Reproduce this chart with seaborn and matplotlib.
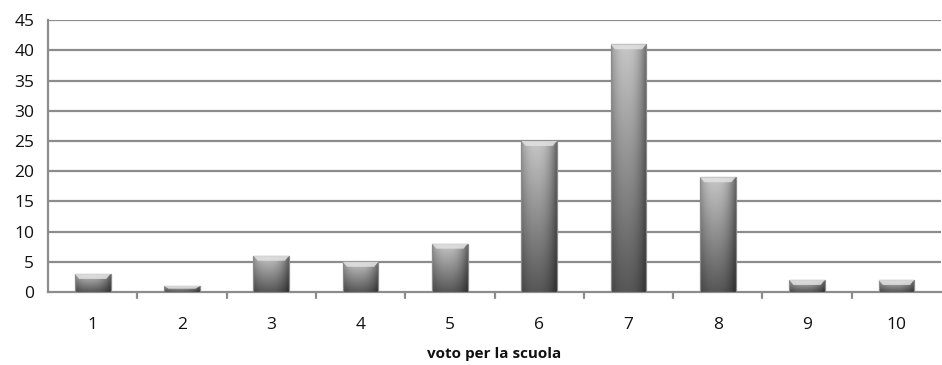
import numpy as np
import pandas as pd
import matplotlib
matplotlib.use("Agg")
import matplotlib.pyplot as plt
from matplotlib.patches import Polygon
from matplotlib.transforms import blended_transform_factory
import seaborn as sns

# Votes given to the school and how many students gave each one
votes = ["1", "2", "3", "4", "5", "6", "7", "8", "9", "10"]
counts = [3, 1, 6, 5, 8, 25, 41, 19, 2, 2]
y_ticks = [0, 5, 10, 15, 20, 25, 30, 35, 40, 45]
x_title = "voto per la scuola"

sns.set_theme(style="white")
plt.rcParams["font.family"] = ["Open Sans", "DejaVu Sans"]

df = pd.DataFrame({"voto": votes, "n": counts})

fig = plt.figure(figsize=(9.42, 3.65), dpi=100)
ax = fig.add_axes([0.051, 0.2, 0.948, 0.745])

sns.barplot(data=df, x="voto", y="n", order=votes, color="#777777",
            width=0.4, ax=ax, saturation=1, edgecolor="none", zorder=3)

ax.set_ylim(0, 45)
ax.set_xlim(-0.5, len(votes) - 0.5)
ax.set_yticks(y_ticks)
ax.set_yticklabels([str(v) for v in y_ticks], fontsize=12.5, color="#111111")
ax.tick_params(axis="x", length=0, labelsize=12.5, labelcolor="#111111", pad=18)
ax.tick_params(axis="y", length=6, width=1.5, color="#888888", direction="out", pad=4)

# horizontal gridlines
for v in y_ticks[1:]:
    ax.axhline(v, color="#8c8c8c", lw=1.6, zorder=1)

for side in ["top", "right"]:
    ax.spines[side].set_visible(False)
for side in ["left", "bottom"]:
    ax.spines[side].set_color("#8c8c8c")
    ax.spines[side].set_linewidth(1.6)

# minor ticks on x between the categories
trans = blended_transform_factory(ax.transData, ax.transAxes)
for b in np.arange(0.5, len(votes) - 0.5, 1.0):
    ax.plot([b, b], [0, -0.022], color="#8c8c8c", lw=1.6, transform=trans,
            clip_on=False, zorder=2)

ax.set_xlabel(x_title, fontsize=11, fontweight="bold", color="#111111", labelpad=10)
ax.set_ylabel("")

# shaded fill for each bar: lighter at top, darker at the base, darker edges
ny, nx = 200, 60
yy = np.linspace(0, 1, ny)[:, None]
xx = np.linspace(-1, 1, nx)[None, :]
vert = 0.78 - 0.44 * yy          # row 0 = top
horiz = 1.0 - 0.35 * np.abs(xx + 0.15) ** 2.4
shade = np.clip(vert * horiz, 0, 1)
rgb = np.dstack([shade, shade, shade])

px_per_unit = ax.get_window_extent().height / 45.0
for patch in list(ax.patches):
    x0, y0 = patch.get_x(), patch.get_y()
    w, h = patch.get_width(), patch.get_height()
    if h <= 0:
        continue
    img = ax.imshow(rgb, extent=[x0, x0 + w, y0, y0 + h], aspect="auto",
                    zorder=4, interpolation="bilinear")
    img.set_clip_path(patch)
    patch.set_facecolor("none")
    patch.set_edgecolor("#8a8a8a")
    patch.set_linewidth(0.9)
    patch.set_zorder(5)
    # bevel on the top of the bar
    bev = min(5.0 / px_per_unit, h * 0.45)
    inset = w * 0.12
    top = Polygon([[x0, y0 + h], [x0 + w, y0 + h],
                   [x0 + w - inset, y0 + h - bev], [x0 + inset, y0 + h - bev]],
                  closed=True, facecolor="#e2e2e2", edgecolor="none", alpha=0.85, zorder=5)
    ax.add_patch(top)

fig.savefig("out.png", dpi=100)
